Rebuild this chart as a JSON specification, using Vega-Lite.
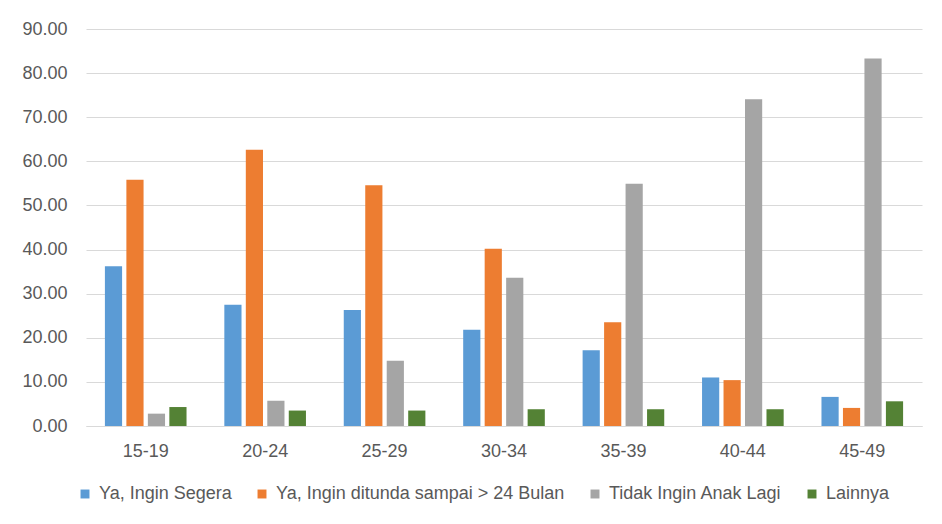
{
  "$schema": "https://vega.github.io/schema/vega-lite/v6.json",
  "width": 836,
  "height": 397,
  "autosize": "none",
  "padding": {"left": 86, "top": 29, "right": 20, "bottom": 98},
  "background": "white",
  "data": {
    "values": [
      {"umur": "15-19", "seri": "Ya, Ingin Segera", "nilai": 36.2},
      {"umur": "15-19", "seri": "Ya, Ingin ditunda sampai > 24 Bulan", "nilai": 55.8},
      {"umur": "15-19", "seri": "Tidak Ingin Anak Lagi", "nilai": 2.8},
      {"umur": "15-19", "seri": "Lainnya", "nilai": 4.3},
      {"umur": "20-24", "seri": "Ya, Ingin Segera", "nilai": 27.5},
      {"umur": "20-24", "seri": "Ya, Ingin ditunda sampai > 24 Bulan", "nilai": 62.6},
      {"umur": "20-24", "seri": "Tidak Ingin Anak Lagi", "nilai": 5.7},
      {"umur": "20-24", "seri": "Lainnya", "nilai": 3.5},
      {"umur": "25-29", "seri": "Ya, Ingin Segera", "nilai": 26.3},
      {"umur": "25-29", "seri": "Ya, Ingin ditunda sampai > 24 Bulan", "nilai": 54.6},
      {"umur": "25-29", "seri": "Tidak Ingin Anak Lagi", "nilai": 14.8},
      {"umur": "25-29", "seri": "Lainnya", "nilai": 3.5},
      {"umur": "30-34", "seri": "Ya, Ingin Segera", "nilai": 21.8},
      {"umur": "30-34", "seri": "Ya, Ingin ditunda sampai > 24 Bulan", "nilai": 40.2},
      {"umur": "30-34", "seri": "Tidak Ingin Anak Lagi", "nilai": 33.6},
      {"umur": "30-34", "seri": "Lainnya", "nilai": 3.8},
      {"umur": "35-39", "seri": "Ya, Ingin Segera", "nilai": 17.2},
      {"umur": "35-39", "seri": "Ya, Ingin ditunda sampai > 24 Bulan", "nilai": 23.5},
      {"umur": "35-39", "seri": "Tidak Ingin Anak Lagi", "nilai": 54.9},
      {"umur": "35-39", "seri": "Lainnya", "nilai": 3.8},
      {"umur": "40-44", "seri": "Ya, Ingin Segera", "nilai": 11.0},
      {"umur": "40-44", "seri": "Ya, Ingin ditunda sampai > 24 Bulan", "nilai": 10.4},
      {"umur": "40-44", "seri": "Tidak Ingin Anak Lagi", "nilai": 74.1},
      {"umur": "40-44", "seri": "Lainnya", "nilai": 3.8},
      {"umur": "45-49", "seri": "Ya, Ingin Segera", "nilai": 6.6},
      {"umur": "45-49", "seri": "Ya, Ingin ditunda sampai > 24 Bulan", "nilai": 4.1},
      {"umur": "45-49", "seri": "Tidak Ingin Anak Lagi", "nilai": 83.3},
      {"umur": "45-49", "seri": "Lainnya", "nilai": 5.6}
    ]
  },
  "mark": {"type": "bar"},
  "encoding": {
    "x": {
      "field": "umur",
      "type": "nominal",
      "sort": null,
      "scale": {"paddingInner": 0, "paddingOuter": 0},
      "axis": {
        "title": null,
        "labelAngle": 0,
        "ticks": false,
        "domainColor": "#D9D9D9",
        "domainWidth": 1,
        "labelPadding": 16,
        "labelFontSize": 18,
        "labelColor": "#595959",
        "labelFont": "Liberation Sans"
      }
    },
    "xOffset": {
      "field": "seri",
      "type": "nominal",
      "sort": ["Ya, Ingin Segera", "Ya, Ingin ditunda sampai > 24 Bulan", "Tidak Ingin Anak Lagi", "Lainnya"],
      "scale": {"paddingInner": 0.2, "paddingOuter": 0.88}
    },
    "y": {
      "field": "nilai",
      "type": "quantitative",
      "scale": {"domain": [0, 90], "nice": false},
      "axis": {
        "title": null,
        "values": [0, 10, 20, 30, 40, 50, 60, 70, 80, 90],
        "format": ".2f",
        "domain": false,
        "ticks": false,
        "labelPadding": 19,
        "labelFontSize": 18,
        "labelColor": "#595959",
        "labelFont": "Liberation Sans",
        "gridColor": "#D9D9D9",
        "gridWidth": 1
      }
    },
    "color": {
      "field": "seri",
      "type": "nominal",
      "sort": ["Ya, Ingin Segera", "Ya, Ingin ditunda sampai > 24 Bulan", "Tidak Ingin Anak Lagi", "Lainnya"],
      "scale": {
        "domain": ["Ya, Ingin Segera", "Ya, Ingin ditunda sampai > 24 Bulan", "Tidak Ingin Anak Lagi", "Lainnya"],
        "range": ["#5B9BD5", "#ED7D31", "#A5A5A5", "#548235"]
      },
      "legend": {
        "title": null,
        "orient": "none",
        "direction": "horizontal",
        "legendX": -10,
        "legendY": 456,
        "symbolType": "square",
        "symbolSize": 80,
        "symbolStrokeWidth": 0,
        "labelOffset": 5,
        "columnPadding": 21,
        "labelLimit": 500,
        "labelFontSize": 18,
        "labelColor": "#595959",
        "labelFont": "Liberation Sans"
      }
    }
  },
  "config": {
    "view": {"stroke": null}
  }
}
